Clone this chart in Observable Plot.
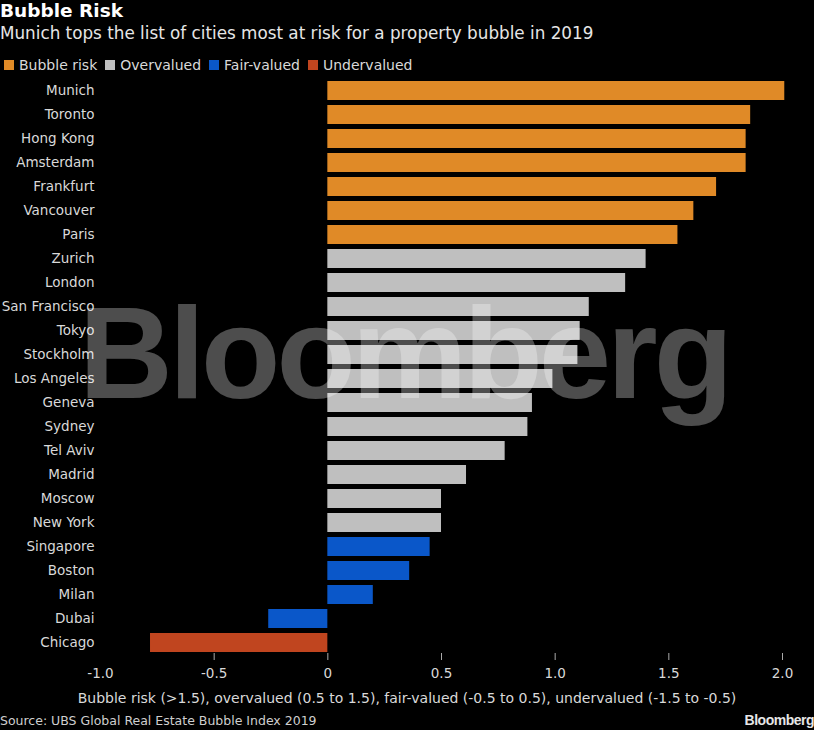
<!DOCTYPE html>
<html>
<head>
<meta charset="utf-8">
<script src="https://cdn.jsdelivr.net/npm/d3@7"></script>
<script src="https://cdn.jsdelivr.net/npm/@observablehq/plot@0.6"></script>
<style>
  html, body { margin: 0; padding: 0; background: #000; }
  body { width: 814px; height: 730px; position: relative; overflow: hidden;
         font-family: "DejaVu Sans", sans-serif; color: #ddd; }
  #title { position: absolute; left: 0; top: 0px; font-size: 18.5px; font-weight: bold; color: #fff; }
  #subtitle { position: absolute; left: 0; top: 23px; font-size: 16.8px; color: #e6e6e6; }
  #legend { position: absolute; left: 4px; top: 57px; font-size: 14px; color: #d9d9d9; display: flex; gap: 8px; }
  #legend span.sw { display: inline-block; width: 10px; height: 10px; margin-right: 5px; }
  #chart { position: absolute; left: 0; top: 74px; }
  #note { position: absolute; left: 0; width: 814px; text-align: center; top: 690px; font-size: 14px; color: #d9d9d9; }
  #source { position: absolute; left: 0; top: 713px; font-size: 12.5px; color: #cfcfcf; }
  #brand { position: absolute; right: 0; top: 712px; font-size: 14px; font-weight: bold; color: #e6e6e6;
           font-family: "Liberation Sans", Arial, sans-serif; letter-spacing: -0.5px; }
  #wm { position: absolute; left: 79px; top: 288px; font-family: "Liberation Sans", Arial, sans-serif;
        font-weight: bold; font-size: 130px; letter-spacing: -4px; color: rgba(255,255,255,0.3);
        pointer-events: none; line-height: 1; white-space: nowrap; }
</style>
</head>
<body>
<div id="title">Bubble Risk</div>
<div id="subtitle">Munich tops the list of cities most at risk for a property bubble in 2019</div>
<div id="legend"></div>
<div id="chart"></div>
<div id="note">Bubble risk (&gt;1.5), overvalued (0.5 to 1.5), fair-valued (-0.5 to 0.5), undervalued (-1.5 to -0.5)</div>
<div id="source">Source: UBS Global Real Estate Bubble Index 2019</div>
<div id="brand">Bloomberg</div>
<div id="wm">Bloomberg</div>
<script>
const cities = ["Munich","Toronto","Hong Kong","Amsterdam","Frankfurt","Vancouver","Paris","Zurich","London","San Francisco","Tokyo","Stockholm","Los Angeles","Geneva","Sydney","Tel Aviv","Madrid","Moscow","New York","Singapore","Boston","Milan","Dubai","Chicago"];
const scores = [2.01,1.86,1.84,1.84,1.71,1.61,1.54,1.40,1.31,1.15,1.11,1.10,0.99,0.90,0.88,0.78,0.61,0.50,0.50,0.45,0.36,0.20,-0.26,-0.78];
const categories = ["Bubble risk","Overvalued","Fair-valued","Undervalued"];
const cityCategory = ["Bubble risk","Bubble risk","Bubble risk","Bubble risk","Bubble risk","Bubble risk","Bubble risk","Overvalued","Overvalued","Overvalued","Overvalued","Overvalued","Overvalued","Overvalued","Overvalued","Overvalued","Overvalued","Overvalued","Overvalued","Fair-valued","Fair-valued","Fair-valued","Fair-valued","Undervalued"];
const colors = ["#E08A27","#BFBFBF","#0A57C9","#C0451F"];
const xTicks = [-1.0,-0.5,0,0.5,1.0,1.5,2.0];
const xTickMarks = [-0.5,0,0.5,1.0,1.5,2.0];

const data = cities.map((c, i) => ({city: c, score: scores[i], cat: cityCategory[i]}));

const legend = document.getElementById("legend");
categories.forEach((c, i) => {
  const item = document.createElement("div");
  item.innerHTML = `<span class="sw" style="background:${colors[i]}"></span>${c}`;
  legend.appendChild(item);
});

const chart = Plot.plot({
  width: 814,
  height: 612,
  marginTop: 0,
  marginBottom: 27,
  marginLeft: 100,
  marginRight: 32,
  style: {background: "#000", color: "#d9d9d9", fontSize: "13.5px",
          fontFamily: '"DejaVu Sans", sans-serif'},
  x: {domain: [-1, 2], ticks: xTicks, label: null},
  y: {domain: cities, padding: 0.215, label: null},
  color: {domain: categories, range: colors},
  marks: [
    Plot.barX(data, {x: "score", y: "city", fill: "cat"}),
    Plot.axisY({tickSize: 0, tickPadding: 6, fill: "#d9d9d9", fontSize: 13.5}),
    Plot.axisX({ticks: xTickMarks, tickSize: 7, dy: -6, stroke: "#aaa", tickFormat: () => ""}),
    Plot.axisX({ticks: xTicks, tickSize: 0, tickPadding: 9, fill: "#d9d9d9", fontSize: 13.5,
                tickFormat: d => d === 0 ? "0" : d.toFixed(1)})
  ]
});
document.getElementById("chart").appendChild(chart);
</script>
</body>
</html>
